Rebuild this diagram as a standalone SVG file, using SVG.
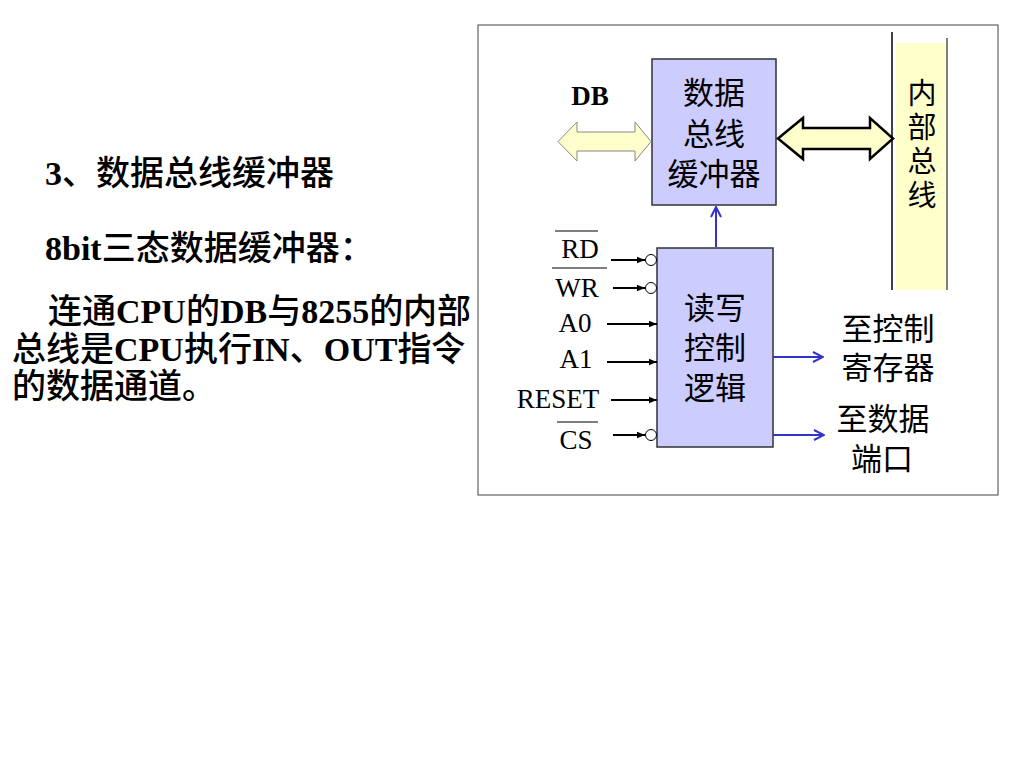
<svg xmlns="http://www.w3.org/2000/svg" width="1024" height="768" viewBox="0 0 1024 768">
<style>
.body{font-family:"Liberation Serif","Noto Sans CJK SC",serif;font-size:34px;font-weight:bold;fill:#000;}
.c{font-family:"Noto Sans CJK SC",sans-serif;font-weight:500;}
.lbl{font-family:"Noto Sans CJK SC",sans-serif;font-size:31px;fill:#000;text-anchor:middle;}
.vt{font-family:"Noto Sans CJK SC",sans-serif;font-size:29px;fill:#000;text-anchor:middle;}
.pin{font-family:"Liberation Serif",serif;font-size:27px;fill:#000;text-anchor:middle;}
.box{fill:#ccccff;stroke:#333;stroke-width:1.5;}
.blk{stroke:#000;stroke-width:2;fill:none;}
.blue{stroke:#3333cc;stroke-width:2;fill:none;}
.bub{fill:#fff;stroke:#000;stroke-width:1;}
.ov{stroke:#000;stroke-width:1.2;}
</style>
<defs>
<marker id="ab" viewBox="0 0 10 10" refX="10" refY="5" markerWidth="8" markerHeight="8" orient="auto" markerUnits="userSpaceOnUse">
<path d="M0,1 L10,5 L0,9 Z" fill="#000"/>
</marker>
<marker id="av" viewBox="0 0 12 12" refX="11" refY="6" markerWidth="12" markerHeight="12" orient="auto" markerUnits="userSpaceOnUse">
<path d="M1,1 L11,6 L1,11" fill="none" stroke="#3333cc" stroke-width="2"/>
</marker>
</defs>
<rect width="1024" height="768" fill="#fff"/>

<g id="text-left" class="body">
<text x="45" y="185">3<tspan class="c">、数据总线缓冲器</tspan></text>
<text x="45" y="260">8bit<tspan class="c">三态数据缓冲器：</tspan></text>
<text x="48" y="323"><tspan class="c">连通</tspan>CPU<tspan class="c">的</tspan>DB<tspan class="c">与</tspan>8255<tspan class="c">的内部</tspan></text>
<text x="12" y="361"><tspan class="c">总线是</tspan>CPU<tspan class="c">执行</tspan>IN<tspan class="c">、</tspan>OUT<tspan class="c">指令</tspan></text>
<text x="12" y="398"><tspan class="c">的数据通道。</tspan></text>
</g>

<rect id="frame" x="478" y="25" width="520" height="470" fill="none" stroke="#444" stroke-width="1"/>

<g id="internal-bus">
<rect x="896" y="43" width="50" height="247" fill="#ffffcc"/>
<line x1="892" y1="32" x2="892" y2="290" stroke="#000" stroke-width="1.5"/>
<line x1="947" y1="38" x2="947" y2="290" stroke="#555" stroke-width="1.5"/>
<text class="vt" x="922" y="104">内</text>
<text class="vt" x="922" y="138">部</text>
<text class="vt" x="922" y="172">总</text>
<text class="vt" x="922" y="206">线</text>
</g>

<g id="db-label">
<text x="590" y="105" font-family="Liberation Serif,serif" font-size="27" font-weight="bold" text-anchor="middle">DB</text>
</g>

<g id="buffer">
<rect class="box" x="652" y="59" width="124" height="146"/>
<text class="lbl" x="714" y="104">数据</text>
<text class="lbl" x="714" y="145">总线</text>
<text class="lbl" x="714" y="185">缓冲器</text>
</g>

<g id="rw-logic">
<rect class="box" x="657" y="248" width="116" height="199"/>
<text class="lbl" x="715" y="319">读写</text>
<text class="lbl" x="715" y="359">控制</text>
<text class="lbl" x="715" y="399">逻辑</text>
</g>

<g id="pins">
<line class="ov" x1="555" y1="231" x2="598" y2="231"/>
<text class="pin" x="580" y="258">RD</text>
<line class="ov" x1="552" y1="268" x2="607" y2="268"/>
<text class="pin" x="577" y="297">WR</text>
<text class="pin" x="575" y="332">A0</text>
<text class="pin" x="576" y="368">A1</text>
<text class="pin" x="558" y="408">RESET</text>
<line class="ov" x1="557" y1="422" x2="598" y2="422"/>
<text class="pin" x="576" y="449">CS</text>
</g>

<g id="outputs">
<text class="lbl" x="888" y="340">至控制</text>
<text class="lbl" x="888" y="379">寄存器</text>
<text class="lbl" x="883" y="430">至数据</text>
<text class="lbl" x="882" y="470">端口</text>
</g>

<g id="connectors">
<path d="M558,141.5 L577,122 L577,132 L635,132 L635,122 L651,141.5 L635,161 L635,151 L577,151 L577,161 Z" fill="#ffffcc" stroke="#888" stroke-width="1"/>
<path d="M778,138.5 L803,118 L803,128 L870,128 L870,118 L893,138.5 L870,159 L870,149 L803,149 L803,159 Z" fill="#ffffcc" stroke="#000" stroke-width="2.5" stroke-linejoin="miter"/>
<line class="blue" x1="716" y1="247" x2="716" y2="207" marker-end="url(#av)"/>
<line class="blue" x1="773" y1="357" x2="823" y2="357" marker-end="url(#av)"/>
<line class="blue" x1="773" y1="435" x2="824" y2="435" marker-end="url(#av)"/>
<line class="blk" x1="611" y1="260" x2="645" y2="260" marker-end="url(#ab)"/>
<circle class="bub" cx="651" cy="260" r="5.5"/>
<line class="blk" x1="613" y1="288" x2="645" y2="288" marker-end="url(#ab)"/>
<circle class="bub" cx="651" cy="288" r="5.5"/>
<line class="blk" x1="607" y1="324" x2="657" y2="324" marker-end="url(#ab)"/>
<line class="blk" x1="607" y1="362" x2="657" y2="362" marker-end="url(#ab)"/>
<line class="blk" x1="611" y1="400" x2="657" y2="400" marker-end="url(#ab)"/>
<line class="blk" x1="613" y1="435" x2="645" y2="435" marker-end="url(#ab)"/>
<circle class="bub" cx="651" cy="435" r="5.5"/>
</g>
</svg>
